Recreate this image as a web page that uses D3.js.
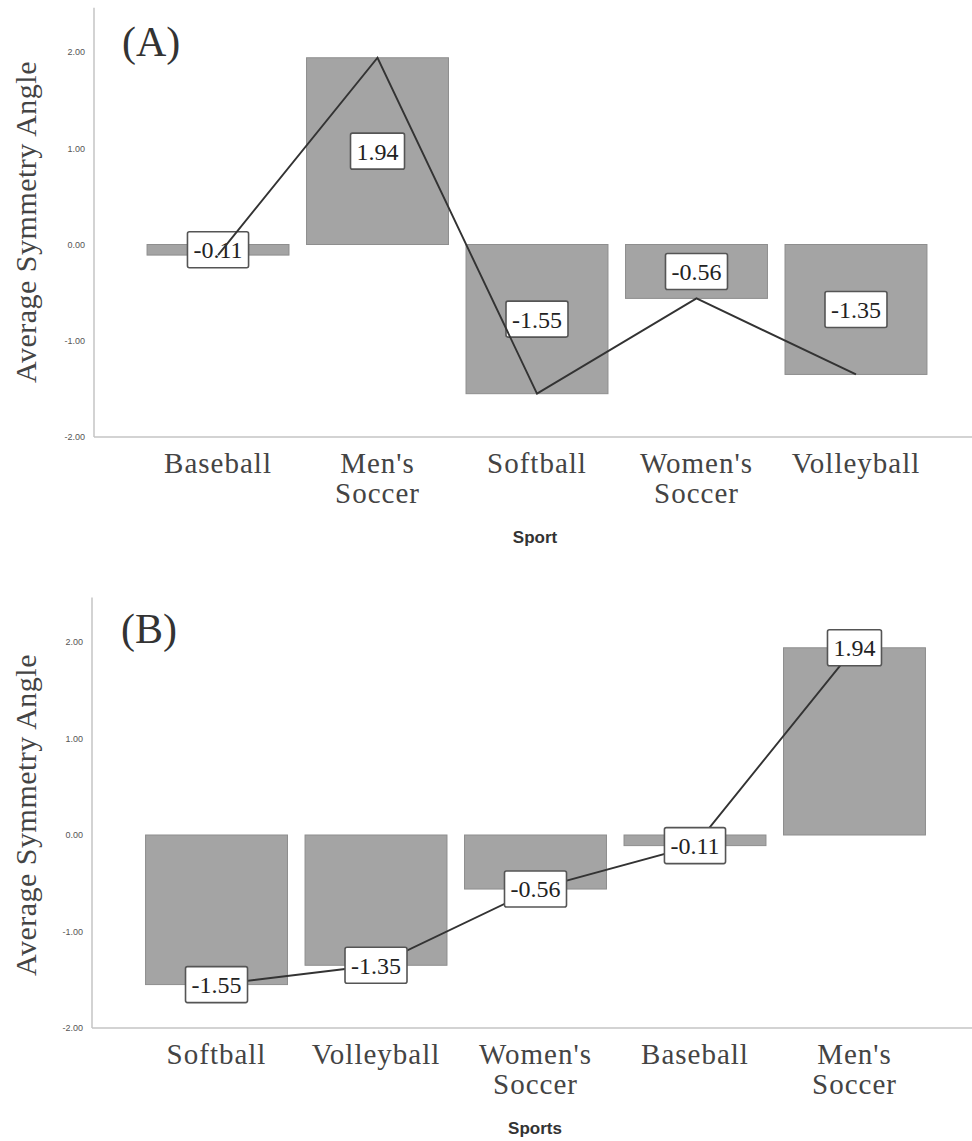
<!DOCTYPE html>
<html>
<head>
<meta charset="utf-8">
<script src="https://cdn.jsdelivr.net/npm/d3@7"></script>
<style>
  html, body { margin: 0; padding: 0; background: #fff; }
  svg { display: block; }
</style>
</head>
<body>
<script>
// ---- Data ----
const categoriesA = ["Baseball", "Men's Soccer", "Softball", "Women's Soccer", "Volleyball"];
const valuesA = [-0.11, 1.94, -1.55, -0.56, -1.35];
const categoriesB = ["Softball", "Volleyball", "Women's Soccer", "Baseball", "Men's Soccer"];
const valuesB = [-1.55, -1.35, -0.56, -0.11, 1.94];
const yTicks = [2, 1, 0, -1, -2];
const yTickLabels = ["2.00", "1.00", "0.00", "-1.00", "-2.00"];
const panelLabels = ["(A)", "(B)"];
const xTitles = ["Sport", "Sports"];
const yTitle = "Average Symmetry Angle";

const W = 972, H = 1141;
const svg = d3.select("body").append("svg").attr("width", W).attr("height", H);

const serif = "Liberation Serif, DejaVu Serif, Noto Serif, serif";
const sans = "Liberation Sans, Arial, sans-serif";

function panel(cfg) {
  const g = svg.append("g");
  const y = d3.scaleLinear().domain([-2, 2]).range([cfg.yBottom, cfg.yTop]);
  const x = d3.scaleBand().domain(cfg.cats).range([cfg.x0, cfg.x1]).padding(0.11);

  // axis lines
  g.append("line").attr("x1", cfg.axisX).attr("x2", cfg.axisX)
    .attr("y1", y(2.46)).attr("y2", y(-2))
    .attr("stroke", "#c4c4c4").attr("stroke-width", 1.5);
  g.append("line").attr("x1", cfg.axisX).attr("x2", W)
    .attr("y1", y(-2)).attr("y2", y(-2))
    .attr("stroke", "#c4c4c4").attr("stroke-width", 1.5);

  // y tick labels via d3 axis
  const yAxis = d3.axisLeft(y).tickValues(yTicks).tickSize(0).tickPadding(9)
    .tickFormat((d, i) => yTickLabels[i]);
  const ya = g.append("g").attr("transform", `translate(${cfg.axisX},0)`).call(yAxis);
  ya.select(".domain").remove();
  ya.selectAll("text").attr("font-family", sans).attr("font-size", 9).attr("fill", "#555");

  // y title
  g.append("text")
    .attr("transform", `translate(${cfg.yTitleX},${cfg.yTitleY}) rotate(-90)`)
    .attr("text-anchor", "middle")
    .attr("font-family", serif).attr("font-size", 30).attr("letter-spacing", 0.5).attr("fill", "#444")
    .text(yTitle);

  // panel label
  g.append("text").attr("x", cfg.panelX).attr("y", cfg.panelY)
    .attr("font-family", serif).attr("font-size", 42).attr("fill", "#333")
    .text(cfg.panelLabel);

  // bars
  g.selectAll("rect.bar").data(cfg.vals).join("rect").attr("class", "bar")
    .attr("x", (d, i) => x(cfg.cats[i]))
    .attr("width", x.bandwidth())
    .attr("y", d => Math.min(y(0), y(d)))
    .attr("height", d => Math.abs(y(d) - y(0)))
    .attr("fill", "#a4a4a4").attr("stroke", "#8e8e8e").attr("stroke-width", 1);

  // line
  const lineGen = d3.line().x((d, i) => x(cfg.cats[i]) + x.bandwidth() / 2).y(d => y(d));
  const drawLine = () => g.append("path").datum(cfg.vals).attr("d", lineGen)
    .attr("fill", "none").attr("stroke", "#333").attr("stroke-width", 1.9);

  if (!cfg.lineOnTop) drawLine();

  // value labels
  const lab = g.selectAll("g.lab").data(cfg.vals).join("g").attr("class", "lab")
    .attr("transform", (d, i) => `translate(${x(cfg.cats[i]) + x.bandwidth() / 2},${y(cfg.labelMid ? d / 2 : d)})`);
  const rects = lab.append("rect").attr("fill", "#fff").attr("stroke", "#555")
    .attr("stroke-width", 1.6).attr("rx", 2);
  const txt = lab.append("text").attr("text-anchor", "middle").attr("dy", "0.35em")
    .attr("font-family", serif).attr("font-size", 24).attr("fill", "#222")
    .text(d => d.toFixed(2));
  txt.each(function (d, i) {
    const w = this.getComputedTextLength();
    d3.select(rects.nodes()[i]).attr("x", -w / 2 - 6).attr("width", w + 12)
      .attr("y", -18).attr("height", 36);
  });

  if (cfg.lineOnTop) drawLine();

  // category labels
  cfg.cats.forEach((c, i) => {
    const parts = c.split(" ");
    const t = g.append("text").attr("text-anchor", "middle")
      .attr("font-family", serif).attr("font-size", 29).attr("letter-spacing", 1).attr("fill", "#444");
    parts.forEach((p, j) => {
      t.append("tspan").attr("x", x(c) + x.bandwidth() / 2)
        .attr("y", y(-2) + 36 + j * 30).text(p);
    });
  });

  // x title
  g.append("text").attr("x", 535).attr("y", cfg.xTitleY).attr("text-anchor", "middle")
    .attr("font-family", sans).attr("font-weight", "bold").attr("font-size", 17).attr("fill", "#333")
    .text(cfg.xTitle);
}

panel({
  cats: categoriesA, vals: valuesA, yTop: 52, yBottom: 437,
  x0: 129.5, x1: 944.5, axisX: 94, yTitleX: 36, yTitleY: 222,
  panelX: 122, panelY: 56, panelLabel: panelLabels[0],
  xTitle: xTitles[0], xTitleY: 543, labelMid: true, lineOnTop: true
});
panel({
  cats: categoriesB, vals: valuesB, yTop: 642, yBottom: 1028,
  x0: 128, x1: 943, axisX: 92, yTitleX: 36, yTitleY: 815,
  panelX: 121, panelY: 643, panelLabel: panelLabels[1],
  xTitle: xTitles[1], xTitleY: 1134, labelMid: false, lineOnTop: false
});
</script>
</body>
</html>
